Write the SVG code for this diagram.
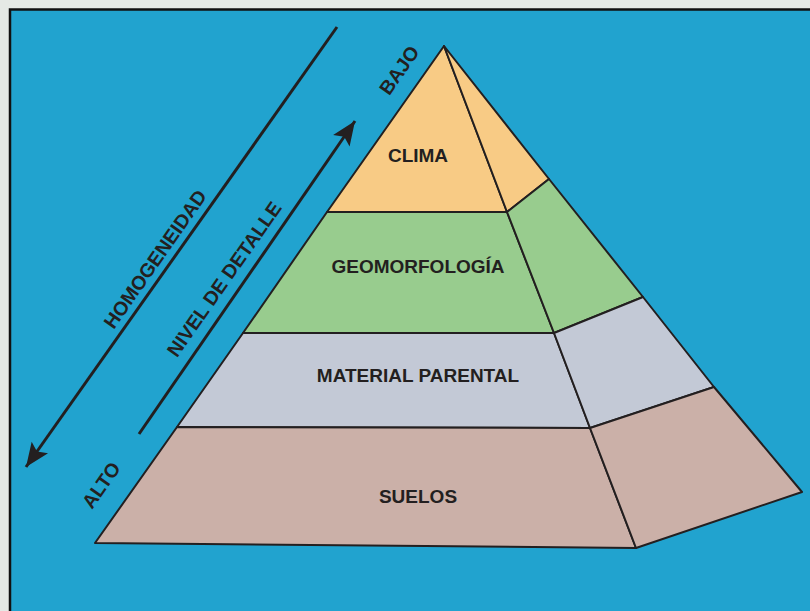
<svg xmlns="http://www.w3.org/2000/svg" width="810" height="611" viewBox="0 0 810 611">
<defs>
<style>
.face{stroke:#231F20;stroke-width:2;stroke-linejoin:round}
.clima{fill:#F8CB85}
.geo{fill:#98CC8E}
.mat{fill:#C3C9D6}
.suelo{fill:#CBB0A8}
.lbl{font-family:"Liberation Sans",Arial,sans-serif;font-weight:bold;font-size:19px;fill:#231F20;text-anchor:middle}
.rot{font-family:"Liberation Sans",Arial,sans-serif;font-weight:bold;font-size:19.5px;fill:#231F20;text-anchor:middle}
.arr{stroke:#231F20;stroke-width:3;fill:none}
</style>
<marker id="ah" markerUnits="userSpaceOnUse" markerWidth="32" markerHeight="26" viewBox="-2 -13 30 26" refX="24" refY="0" orient="auto">
<path d="M0,-10 L24,0 L0,10 L5,0 z" fill="#231F20"/>
</marker>
</defs>
<rect width="810" height="611" fill="#E5E9E5"/>
<rect x="10" y="9.5" width="820" height="620" fill="#21A3CF" stroke="#111" stroke-width="2.5"/>
<g id="clima">
<polygon class="face clima" points="444,46 507,212 327,212"/>
<polygon class="face clima" points="444,46 549,179 507,212"/>
<text class="lbl" x="418" y="162">CLIMA</text>
</g>
<g id="geomorfologia">
<polygon class="face geo" points="327,212 507,212 554,333 243,333"/>
<polygon class="face geo" points="507,212 549,179 643,297 554,333"/>
<text class="lbl" x="418" y="273">GEOMORFOLOGÍA</text>
</g>
<g id="material">
<polygon class="face mat" points="243,333 554,333 590,428 177,427"/>
<polygon class="face mat" points="554,333 643,297 714,387 590,428"/>
<text class="lbl" x="418" y="382">MATERIAL PARENTAL</text>
</g>
<g id="suelos">
<polygon class="face suelo" points="177,427 590,428 636,548 95,543"/>
<polygon class="face suelo" points="590,428 714,387 802,492 636,548"/>
<text class="lbl" x="418" y="503">SUELOS</text>
</g>
<g id="connectors">
<line class="arr" x1="337" y1="27" x2="26" y2="467" marker-end="url(#ah)"/>
<line class="arr" x1="139" y1="434" x2="355" y2="121" marker-end="url(#ah)"/>
</g>
<g id="labels">
<text class="rot" transform="translate(155,259) rotate(-55)" y="7">HOMOGENEIDAD</text>
<text class="rot" transform="translate(224,279) rotate(-55)" y="7">NIVEL DE DETALLE</text>
<text class="rot" transform="translate(399,70) rotate(-55)" y="7">BAJO</text>
<text class="rot" transform="translate(101,485) rotate(-55)" y="7">ALTO</text>
</g>
</svg>
